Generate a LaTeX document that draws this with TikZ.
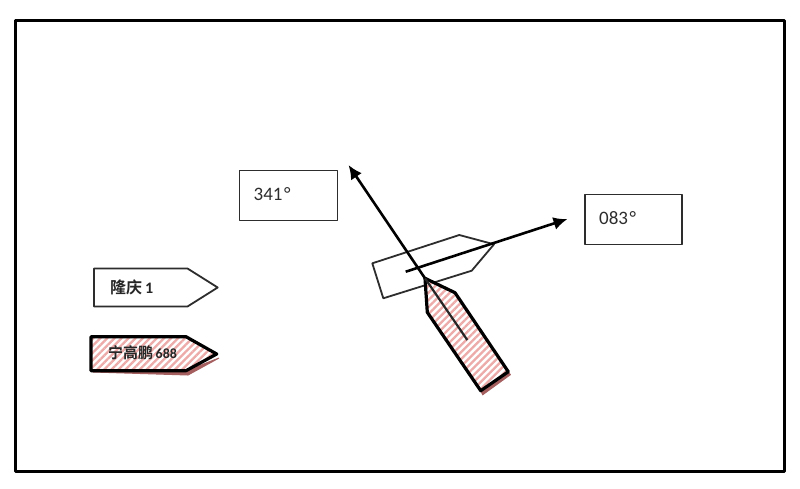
\documentclass[tikz,border=0pt]{standalone}
\usepackage{fontspec}
\setmainfont{Carlito}
\newfontfamily\cjkfont{Noto Sans CJK SC}[BoldFont={* Bold}]
\usetikzlibrary{arrows.meta,patterns.meta}
\definecolor{hatchpink}{RGB}{236,170,168}
\definecolor{shadowred}{RGB}{165,95,95}
\definecolor{inkgray}{RGB}{45,45,45}
\tikzset{
  x=1pt,y=-1pt,
  frameline/.style={draw=black,line width=3pt,line join=round},
  labelbox/.style={draw=inkgray,line width=1.8pt,fill=white,line join=round},
  plainship/.style={draw=inkgray,line width=1.8pt,line join=round,fill=white},
  hatchship/.style={draw=black,line width=3.2pt,line join=round,
    pattern={Lines[angle=45,distance=5pt,line width=2.3pt]},pattern color=hatchpink},
  shipshadow/.style={fill=shadowred,draw=shadowred,line width=1pt},
  heading/.style={draw=black,line width=2.6pt,-{Latex[length=14pt,width=13pt]}},
  keel/.style={draw=black!85,line width=2.2pt},
  valuetext/.style={font=\fontsize{19}{21}\selectfont,text=inkgray,inner sep=0pt,anchor=west},
  nametext/.style={font=\fontsize{16}{18}\selectfont\bfseries,text=black!85,inner sep=0pt,anchor=west}
}
\begin{document}
\begin{tikzpicture}
\useasboundingbox (0,0) rectangle (800,488);
\fill[white] (0,0) rectangle (800,488);
\draw[frameline] (15.5,20.5) rectangle (784,471);

% boxes
\draw[labelbox] (239.5,170.5) rectangle (337.5,220.5);
\node[valuetext] (v341) at (253.5,194) {341\kern1.5pt°};
\draw[labelbox] (585,194.5) rectangle (682,244.5);
\node[valuetext] (v083) at (599,218) {083\kern1.5pt°};

% ship on 083
\coordinate (a1) at (372.3,263.3);
\coordinate (a2) at (459.3,235);
\coordinate (a3) at (494,244.3);
\coordinate (a4) at (471.7,270.7);
\coordinate (a5) at (383.3,298.3);
\draw[plainship] (a1) -- (a2) -- (a3) -- (a4) -- (a5) -- cycle;
\coordinate (tailA) at (405.7,271.7);
\coordinate (headA) at (567.5,219);
\draw[heading] (tailA) -- (headA);

% ship on 341
\coordinate (b1) at (425,278.3);
\coordinate (b2) at (455,292.7);
\coordinate (b3) at (508.3,371.7);
\coordinate (b4) at (480.7,390.7);
\coordinate (b5) at (427.3,312.3);
\coordinate (keelB) at (467.3,340);
\coordinate (headB) at (348.5,165);
\fill[shipshadow] (b3) ++(2,3) -- ++(-27.6,20) -- (b4) -- (b3) -- cycle;
\fill[white] (b1) -- (b2) -- (b3) -- (b4) -- (b5) -- cycle;
\draw[hatchship] (b1) -- (b2) -- (b3) -- (b4) -- (b5) -- cycle;
\draw[keel] (b1) -- (keelB);
\draw[heading] (b1) -- (headB);

% legend
\draw[plainship] (94,268.5) -- (187.5,268.5) -- (217.7,287.5) -- (187.5,306.5) -- (94,306.5) -- cycle;
\node[nametext] (n1) at (110,287) {{\cjkfont 隆庆}\kern3pt 1};

\fill[shipshadow] (93,372) -- (188,375) -- (219,358) -- (186,371) -- cycle;
\fill[white] (91,336.7) -- (186,336.7) -- (216.7,354) -- (186,370.7) -- (91,370.7) -- cycle;
\draw[hatchship] (91,336.7) -- (186,336.7) -- (216.7,354) -- (186,370.7) -- (91,370.7) -- cycle;
\node[nametext] (n2) at (108,353) {{\cjkfont\fontsize{15}{18}\selectfont 宁高鹏}\kern2.5pt{\fontsize{14}{18}\selectfont 688}};
\end{tikzpicture}
\end{document}
